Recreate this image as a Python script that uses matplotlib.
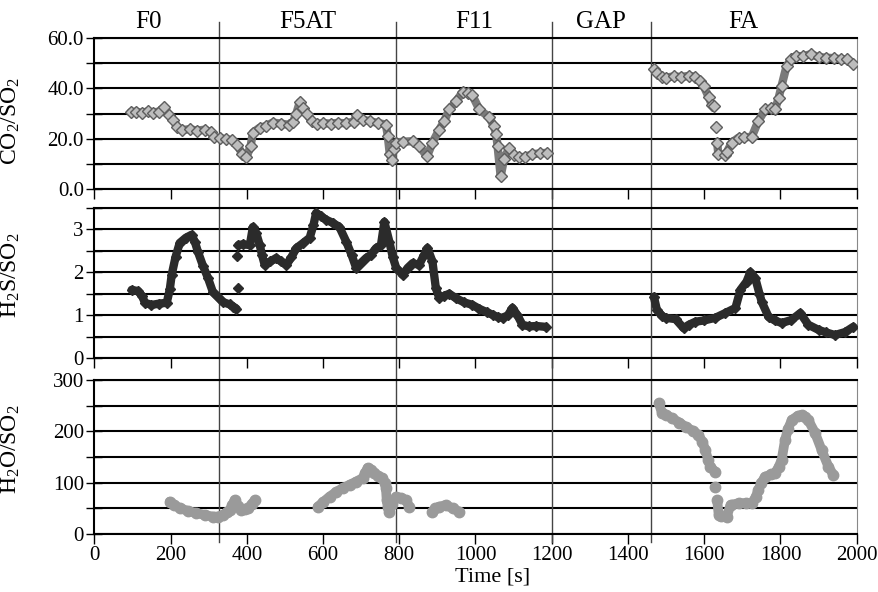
import numpy as np
import matplotlib
matplotlib.use('Agg')
import matplotlib.pyplot as plt
from matplotlib.ticker import MultipleLocator, FormatStrFormatter

plt.rcParams['font.family'] = ['Liberation Serif', 'DejaVu Serif']
plt.rcParams['mathtext.default'] = 'regular'

# section boundaries [s] and names
sections = [327, 791, 1200, 1460]
section_names = ['F0', 'F5AT', 'F11', 'GAP', 'FA']
section_label_t = [141, 560, 997, 1330, 1703]

# CO2/SO2 (None = break in the record)
co2_t = [95, 110, 125, 140, 155, 170, 183, 195, 207, 218, 230, 250, 270, 290, 305, 315, 330,
         345, 360, 375, 388, 399, 410, 416, 434, 450, 468, 490, 510, 521, 530, 539, 548, 557,
         570, 583, 600, 620, 640, 660, 680, 690, 705, 722, 745, 765, 770, 775, 780, 785, 792,
         810, 835, 852, 873, 887, 905, 918, 931, 950, 966, 980, 992, 1010, 1036, 1048, 1054,
         1058, 1066, 1075, 1088, 1100, 1114, 1130, 1149, 1170, 1188,
         None,
         1468, 1475, 1489, 1500, 1520, 1540, 1560, 1576, 1590, 1599, 1612, 1620, 1626,
         None, 1630, None,
         1634, 1637, 1655, 1660, 1672, 1690, 1705, 1725, 1742, 1760, 1775, 1786, 1795, 1803,
         1816, 1828, 1840, 1860, 1880, 1900, 1920, 1940, 1960, 1975, 1990]
co2_v = [30.5, 30.8, 30.2, 30.9, 30.4, 30.8, 32.5, 29.5, 27.6, 24.5, 23.4, 23.8, 23.2, 23.6, 22.6,
         20.5, 20.2, 19.8, 19.5, 17.5, 14.0, 12.6, 17.0, 22.4, 24.4, 25.0, 26.4, 26.0, 25.5, 26.5,
         30.0, 34.5, 32.0, 30.0, 27.0, 25.8, 26.2, 26.0, 26.3, 26.1, 26.8, 29.5, 27.5, 27.0, 26.2,
         25.6, 21.0, 14.0, 11.6, 16.0, 18.4, 18.8, 19.0, 17.0, 13.0, 18.4, 23.6, 27.0, 31.6, 35.0,
         38.5, 38.0, 37.2, 31.6, 28.5, 25.0, 22.0, 17.0, 5.0, 12.0, 16.2, 13.5, 12.6, 12.8, 13.8,
         14.2, 14.4,
         None,
         47.5, 46.0, 44.4, 44.2, 44.8, 44.5, 45.0, 44.6, 43.0, 40.8, 36.4, 33.5, 32.8,
         None, 24.8, None,
         18.4, 14.0, 13.5, 14.8, 18.4, 20.4, 20.5, 20.8, 27.0, 31.6, 32.0, 31.6, 36.0, 41.0,
         48.8, 51.5, 52.8, 52.8, 53.6, 52.4, 52.2, 52.0, 51.5, 51.6, 49.8]

# H2S/SO2
h2s_t = [98, 115, 125, 133, 150, 170, 190, 198, 203, 213, 224, 240, 255, 264, 272, 285, 298, 311,
         325, 337, 355, 365, 373,
         None, 374, None, 377, None,
         378, 390, 408, 416, 425, 434, 440, 447, 462, 477, 490, 504, 517, 530, 548, 565, 575, 582,
         595, 608, 625, 643, 661, 675, 687, 700, 713, 725, 739, 752, 761, 774, 783, 792, 809, 822,
         835, 852, 865, 874, 887, 896, 905, 918, 931, 948, 970, 992, 1010, 1030, 1045, 1058, 1071,
         1085, 1097, 1110, 1123, 1140, 1160, 1184,
         None,
         1468, 1476, 1490, 1499, 1525, 1546, 1560, 1577, 1600, 1629, 1655, 1682, 1695, 1711, 1721,
         1734, 1745, 1751, 1769, 1785, 1803, 1829, 1852, 1873, 1900, 1920, 1943, 1970, 1991]
h2s_v = [1.59, 1.56, 1.45, 1.29, 1.24, 1.27, 1.29, 1.60, 1.94, 2.35, 2.68, 2.80, 2.87, 2.70, 2.47,
         2.15, 1.87, 1.54, 1.42, 1.31, 1.25, 1.20, 1.15,
         None, 2.37, None, 1.63, None,
         2.63, 2.65, 2.63, 3.05, 2.90, 2.63, 2.40, 2.17, 2.25, 2.33, 2.25, 2.17, 2.35, 2.56, 2.68,
         2.80, 3.10, 3.38, 3.30, 3.22, 3.15, 3.05, 2.71, 2.40, 2.10, 2.22, 2.33, 2.40, 2.56, 2.63,
         3.17, 2.71, 2.35, 2.10, 1.94, 2.10, 2.21, 2.17, 2.40, 2.56, 2.25, 1.63, 1.40, 1.45, 1.50,
         1.40, 1.30, 1.24, 1.15, 1.07, 1.01, 0.96, 0.94, 1.00, 1.17, 1.00, 0.78, 0.74, 0.75, 0.73,
         None,
         1.43, 1.12, 0.98, 0.94, 0.91, 0.70, 0.78, 0.85, 0.88, 0.94, 1.05, 1.17, 1.59, 1.78, 2.00,
         1.86, 1.50, 1.31, 0.96, 0.88, 0.82, 0.89, 1.05, 0.78, 0.66, 0.60, 0.54, 0.61, 0.73]

# H2O/SO2
h2o_t = [198, 210, 224, 245, 268, 290, 311, 325, 337, 347, 355, 362, 368, 377, 386, 395, 403, 413,
         421,
         None,
         586, 600, 617, 635, 652, 670, 687, 704, 710, 717, 726, 735, 745, 756, 762, 765, 767, 770,
         774, 780, 792, 805, 818, 826,
         None,
         887, 895, 905, 922, 940, 957,
         None,
         1481, 1489, 1500, 1515, 1535, 1551, 1570, 1585, 1595, 1603, 1610, 1616, 1629,
         None, 1629, None,
         1634, 1638, 1645, 1659, 1669, 1690, 1710, 1725, 1735, 1742, 1750, 1760, 1775, 1786, 1795,
         1803, 1812, 1820, 1830, 1845, 1856, 1865, 1873, 1891, 1908, 1926, 1939]
h2o_v = [63, 56, 50.6, 45, 40.9, 37, 33.8, 34, 37, 42, 46.7, 56, 66, 55, 46.7, 48, 50.6, 58, 66,
         None,
         53, 62, 72.7, 82, 89.6, 96, 102, 109, 118, 128.6, 124, 119, 112, 109, 100, 89.6, 66, 52,
         43.5, 58, 72.7, 70, 66, 53,
         None,
         43.5, 50, 53, 56.5, 50, 43.5,
         None,
         255, 236, 232, 226, 217, 209, 201, 193, 180, 163.6, 145, 131, 121,
         None, 92, None,
         66, 37, 35, 33.8, 56.5, 60, 60, 60, 72, 85.7, 100, 111.6, 116, 119, 130,
         144, 183, 205, 222, 230, 232, 228, 222, 196.7, 163.6, 131, 115]


def arr(a):
    return np.array([np.nan if x is None else x for x in a], dtype=float)


fig = plt.figure(figsize=(8.79, 5.92), dpi=100)
ax1 = fig.add_axes([0.1073, 0.6807, 0.8673, 0.2551])
ax2 = fig.add_axes([0.1073, 0.3948, 0.8673, 0.2544])
ax3 = fig.add_axes([0.1073, 0.0980, 0.8673, 0.2601])


def style(ax, ymax, major, minor, fmt):
    ax.set_xlim(0, 2000)
    ax.set_ylim(0, ymax)
    ax.yaxis.set_major_locator(MultipleLocator(major))
    ax.yaxis.set_minor_locator(MultipleLocator(minor))
    ax.yaxis.set_major_formatter(FormatStrFormatter(fmt))
    ax.xaxis.set_major_locator(MultipleLocator(200))
    ax.set_axisbelow(True)
    ax.grid(axis='y', which='both', color='black', lw=1.5)
    ax.tick_params(axis='x', direction='out', length=7, width=1, labelsize=15, pad=2)
    ax.tick_params(axis='y', which='both', direction='inout', length=11, width=1,
                   labelsize=15, pad=2)
    for side in ['left', 'bottom', 'top']:
        ax.spines[side].set_color('black')
        ax.spines[side].set_linewidth(1.5)
    ax.spines['right'].set_color('#888888')
    ax.spines['right'].set_linewidth(0.8)


style(ax1, 60, 20, 10, '%.1f')
style(ax2, 3.5, 1, 0.5, '%d')
style(ax3, 300, 100, 50, '%d')
ax1.tick_params(labelbottom=False)
ax2.tick_params(labelbottom=False)

# section dividers, running through the gaps between panels
for s in sections:
    ax1.axvline(s, ymin=-0.124, ymax=1.106, color='#444444', lw=1, clip_on=False, zorder=2)
    ax2.axvline(s, ymin=-0.144, ymax=1, color='#444444', lw=1, clip_on=False, zorder=2)
    ax3.axvline(s, ymin=-0.05, ymax=1, color='#444444', lw=1, clip_on=False, zorder=2)

for name, t in zip(section_names, section_label_t):
    ax1.text(t, 1.106, name, transform=ax1.get_xaxis_transform(), ha='center', va='center',
             fontsize=18)

t, v = arr(co2_t), arr(co2_v)
ax1.plot(t, v, '-', color='#7a7a7a', lw=6, solid_capstyle='round', zorder=3)
ax1.plot(t, v, 'D', ls='none', ms=6.5, mfc='#bdbdbd', mec='#5e5e5e', mew=1.0, zorder=4)

t, v = arr(h2s_t), arr(h2s_v)
ax2.plot(t, v, '-', color='#2b2b2b', lw=6, solid_capstyle='round', zorder=3)
ax2.plot(t, v, 'D', ls='none', ms=5.5, color='#2b2b2b', zorder=4)

t, v = arr(h2o_t), arr(h2o_v)
ax3.plot(t, v, '-', color='#9a9a9a', lw=7, solid_capstyle='round', zorder=3)
ax3.plot(t, v, 'o', ls='none', ms=7.5, color='#9a9a9a', zorder=4)

ax1.set_ylabel('CO$_2$/SO$_2$', fontsize=17)
ax2.set_ylabel('H$_2$S/SO$_2$', fontsize=17)
ax3.set_ylabel('H$_2$O/SO$_2$', fontsize=17)
ax1.yaxis.set_label_coords(-0.095, 0.45)
ax2.yaxis.set_label_coords(-0.095, 0.553)
ax3.yaxis.set_label_coords(-0.095, 0.552)

ax3.set_xlabel('Time [s]', fontsize=16)
ax3.xaxis.set_label_coords(0.5225, -0.22)

fig.savefig('out.png', dpi=100)
